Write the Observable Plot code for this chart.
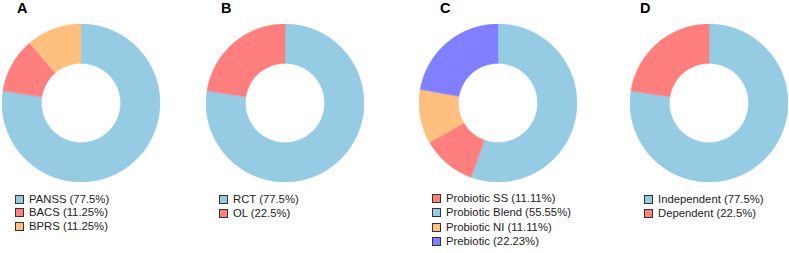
<!DOCTYPE html>
<html>
<head>
<meta charset="utf-8">
<script src="https://cdn.jsdelivr.net/npm/d3@7"></script>
<script src="https://cdn.jsdelivr.net/npm/@observablehq/plot@0.6"></script>
<style>
  html, body { margin: 0; padding: 0; background: #fff; }
  #root { position: relative; width: 789px; height: 253px; overflow: hidden; font-family: "Liberation Sans", Arial, sans-serif; }
  .title { position: absolute; top: 0; font-weight: bold; font-size: 14.5px; line-height: 17px; color: #000; }
  .donut { position: absolute; top: 24px; }
  .legend { position: absolute; font-size: 11.3px; color: #222; }
  .row { position: absolute; left: 0; white-space: nowrap; height: 12px; line-height: 12px; }
  .sw { position: absolute; left: 0; top: 2px; width: 7px; height: 7px; border: 1px solid #333; }
  .lab { position: absolute; left: 14px; top: 0; }
</style>
</head>
<body>
<div id="root"></div>
<script>
// ---- data ----
const panelTitles = ["A", "B", "C", "D"];

const labelsA = ["PANSS", "BACS", "BPRS"];
const valuesA = [77.5, 11.25, 11.25];
const legendA = ["PANSS (77.5%)", "BACS (11.25%)", "BPRS (11.25%)"];

const labelsB = ["RCT", "OL"];
const valuesB = [77.5, 22.5];
const legendB = ["RCT (77.5%)", "OL (22.5%)"];

const labelsC = ["Probiotic SS", "Probiotic Blend", "Probiotic NI", "Prebiotic"];
const valuesC = [11.11, 55.55, 11.11, 22.23];
const legendC = ["Probiotic SS (11.11%)", "Probiotic Blend (55.55%)", "Probiotic NI (11.11%)", "Prebiotic (22.23%)"];
const sliceOrderC = ["Probiotic Blend", "Probiotic SS", "Probiotic NI", "Prebiotic"];

const labelsD = ["Independent", "Dependent"];
const valuesD = [77.5, 22.5];
const legendD = ["Independent (77.5%)", "Dependent (22.5%)"];

const blue = "#96cbe4", red = "#ff7f7f", orange = "#ffbf7f", purple = "#7f7fff";
const colorsA = [blue, red, orange];
const colorsB = [blue, red];
const colorsC = [red, blue, orange, purple];
const colorsD = [blue, red];

// ---- layout ----
const layout = [
  {cx: 80.5, titleX: 17, legX: 15, legY: 193, rowH: 13.3},
  {cx: 284.5, titleX: 221, legX: 219, legY: 193, rowH: 13.6},
  {cx: 498, titleX: 440, legX: 432, legY: 192, rowH: 14.4},
  {cx: 709, titleX: 640, legX: 644, legY: 193, rowH: 13.8}
];
const R = 79;

function ringRows(labels, values, order) {
  const total = d3.sum(values);
  const rows = [];
  let start = 0;
  for (const key of order) {
    const v = values[labels.indexOf(key)];
    const end = start + v / total * 2 * Math.PI;
    const n = Math.max(2, Math.ceil((end - start) / (Math.PI / 360)));
    for (let i = 0; i <= n; i++) {
      const t = start + (end - start) * i / n;
      rows.push({key, x1: Math.sin(t), y1: Math.cos(t), x2: 0.5 * Math.sin(t), y2: 0.5 * Math.cos(t)});
    }
    start = end;
  }
  return rows;
}

const panels = [
  {labels: labelsA, values: valuesA, legend: legendA, colors: colorsA, order: labelsA},
  {labels: labelsB, values: valuesB, legend: legendB, colors: colorsB, order: labelsB},
  {labels: labelsC, values: valuesC, legend: legendC, colors: colorsC, order: sliceOrderC},
  {labels: labelsD, values: valuesD, legend: legendD, colors: colorsD, order: labelsD}
];

const root = document.getElementById("root");
panels.forEach((p, i) => {
  const L = layout[i];
  const t = document.createElement("div");
  t.className = "title";
  t.style.left = L.titleX + "px";
  t.textContent = panelTitles[i];
  root.appendChild(t);

  const chart = Plot.plot({
    width: 2 * R, height: 2 * R, margin: 0,
    x: {domain: [-1, 1], axis: null},
    y: {domain: [-1, 1], axis: null},
    color: {domain: p.labels, range: p.colors},
    marks: [
      Plot.area(ringRows(p.labels, p.values, p.order), {
        x1: "x1", y1: "y1", x2: "x2", y2: "y2", z: "key",
        fill: "key", stroke: "key", strokeWidth: 0.4, curve: "linear"
      })
    ]
  });
  const wrap = document.createElement("div");
  wrap.className = "donut";
  wrap.style.left = (L.cx - R) + "px";
  wrap.appendChild(chart);
  root.appendChild(wrap);

  const leg = document.createElement("div");
  leg.className = "legend";
  leg.style.left = L.legX + "px";
  leg.style.top = L.legY + "px";
  p.legend.forEach((txt, j) => {
    const row = document.createElement("div");
    row.className = "row";
    row.style.top = (j * L.rowH) + "px";
    const sw = document.createElement("div");
    sw.className = "sw";
    sw.style.background = p.colors[j];
    const lab = document.createElement("span");
    lab.className = "lab";
    lab.textContent = txt;
    row.appendChild(sw);
    row.appendChild(lab);
    leg.appendChild(row);
  });
  root.appendChild(leg);
});
</script>
</body>
</html>
